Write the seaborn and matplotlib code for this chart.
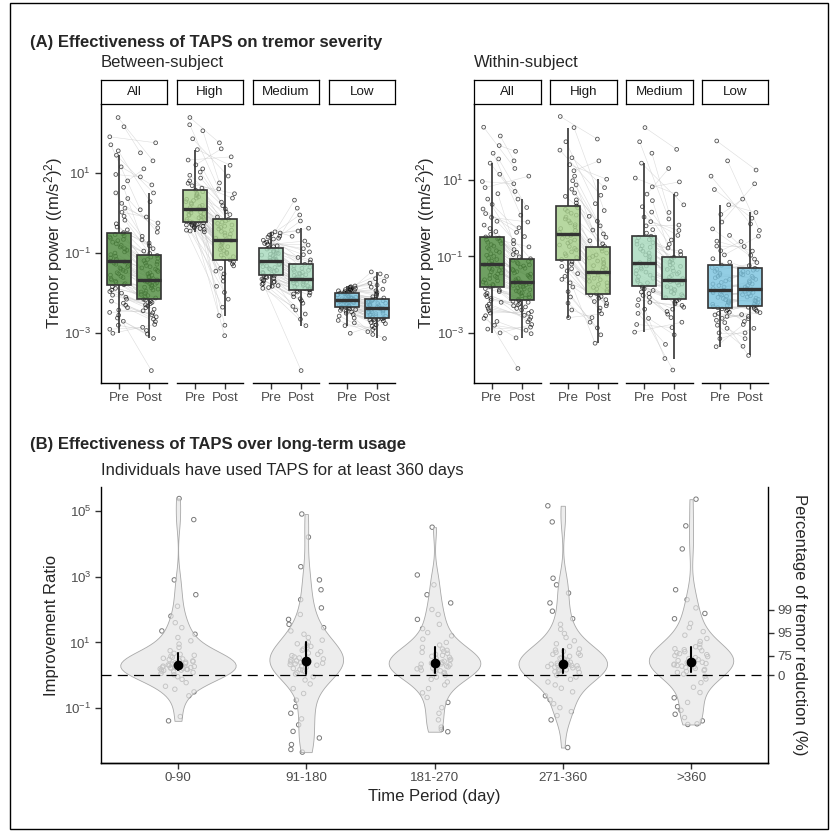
import numpy as np
import pandas as pd
import matplotlib
import matplotlib.pyplot as plt
import seaborn as sns
from matplotlib.collections import LineCollection
from matplotlib.colors import to_rgba
from matplotlib.patches import Rectangle

# =====================================
# DATA (log10 values)
# =====================================
phases = ["Pre", "Post"]
tiers = ["All", "High", "Medium", "Low"]
tier_colors = ["#4f8b3f", "#a8d08c", "#a7dabd", "#7cc4df"]

all_pre = [-3.0, -2.9, -2.8, -2.7, -2.62, -2.55, -2.48, -2.42, -2.36, -2.3, -2.25, -2.2, -2.15, -2.1, -2.05, -2.0, -1.96, -1.92, -1.88, -1.84, -1.79,
           -1.76, -1.73, -1.7, -1.67, -1.64, -1.61, -1.58, -1.55, -1.52, -1.49, -1.46, -1.43, -1.4, -1.37, -1.34, -1.31, -1.28, -1.25, -1.22, -1.2,
           -1.16, -1.12, -1.08, -1.04, -1.0, -0.97, -0.93, -0.89, -0.85, -0.81, -0.77, -0.73, -0.69, -0.66, -0.63, -0.6, -0.57, -0.54, -0.52, -0.49,
           -0.42, -0.35, -0.27, -0.18, -0.08, 0.02, 0.12, 0.24, 0.36, 0.5, 0.64, 0.8, 0.96, 1.15, 1.44, 1.55, 1.7, 1.9, 2.15, 2.38]
all_post = [-3.93, -3.13, -3.02, -2.93, -2.85, -2.78, -2.71, -2.65, -2.59, -2.54, -2.49, -2.44, -2.4, -2.36, -2.32, -2.29, -2.26, -2.23, -2.2, -2.17, -2.15,
            -2.12, -2.09, -2.06, -2.03, -2.0, -1.97, -1.95, -1.92, -1.9, -1.87, -1.85, -1.82, -1.8, -1.78, -1.76, -1.74, -1.72, -1.7, -1.68, -1.67,
            -1.64, -1.61, -1.58, -1.55, -1.52, -1.49, -1.46, -1.43, -1.4, -1.37, -1.34, -1.31, -1.28, -1.25, -1.22, -1.19, -1.16, -1.13, -1.1, -1.06,
            -1.01, -0.95, -0.89, -0.82, -0.75, -0.67, -0.58, -0.48, -0.37, -0.25, -0.1, 0.08, 0.28, 0.5, 0.7, 0.9, 1.1, 1.3, 1.5, 1.75]

btw_high_pre = [-0.47, -0.45, -0.43, -0.41, -0.39, -0.37, -0.35, -0.33, -0.31, -0.3, -0.29, -0.28, -0.27, -0.25, -0.24, -0.22,
                -0.2, -0.18, -0.16, -0.14, -0.12, -0.1, -0.08, -0.06, -0.04, -0.02, 0.0, 0.02, 0.05, 0.07, 0.10,
                0.13, 0.16, 0.19, 0.22, 0.25, 0.28, 0.31, 0.34, 0.37, 0.4, 0.43, 0.46, 0.49, 0.53, 0.57,
                0.62, 0.68, 0.74, 0.8, 0.87, 0.94, 1.02, 1.1, 1.2, 1.32, 1.58, 1.85, 2.05, 2.2, 2.38]
btw_high_post = [-3.06, -2.8, -2.56, -2.35, -2.15, -1.98, -1.83, -1.7, -1.6, -1.52, -1.45, -1.38, -1.32, -1.27, -1.22, -1.17,
                 -1.13, -1.09, -1.05, -1.01, -0.98, -0.94, -0.91, -0.87, -0.84, -0.81, -0.77, -0.74, -0.71, -0.69, -0.67,
                 -0.63, -0.6, -0.56, -0.53, -0.5, -0.46, -0.43, -0.4, -0.36, -0.33, -0.3, -0.26, -0.23, -0.2, -0.16,
                 -0.1, -0.04, 0.03, 0.1, 0.18, 0.27, 0.37, 0.48, 0.6, 0.75, 0.92, 1.19, 1.4, 1.6, 1.75]
btw_medium_pre = [-1.88, -1.86, -1.83, -1.81, -1.78, -1.76, -1.73, -1.71, -1.69, -1.67, -1.65, -1.63, -1.61, -1.59, -1.57, -1.55,
                  -1.53, -1.5, -1.48, -1.46, -1.43, -1.41, -1.39, -1.36, -1.34, -1.32, -1.29, -1.27, -1.25, -1.22, -1.2,
                  -1.18, -1.16, -1.14, -1.12, -1.1, -1.07, -1.05, -1.03, -1.01, -0.99, -0.97, -0.95, -0.93, -0.9, -0.87,
                  -0.84, -0.82, -0.79, -0.76, -0.73, -0.71, -0.68, -0.65, -0.63, -0.6, -0.58, -0.55, -0.52, -0.5, -0.47]
btw_medium_post = [-3.93, -2.81, -2.65, -2.52, -2.42, -2.33, -2.25, -2.19, -2.14, -2.09, -2.05, -2.02, -1.99, -1.97, -1.94, -1.92,
                   -1.9, -1.88, -1.86, -1.84, -1.82, -1.8, -1.78, -1.76, -1.74, -1.72, -1.7, -1.69, -1.67, -1.66, -1.64,
                   -1.62, -1.6, -1.58, -1.56, -1.54, -1.52, -1.5, -1.48, -1.46, -1.43, -1.41, -1.38, -1.35, -1.32, -1.28,
                   -1.23, -1.17, -1.11, -1.04, -0.97, -0.89, -0.8, -0.7, -0.58, -0.45, -0.38, -0.2, -0.05, 0.12, 0.32]
btw_low_pre = [-3.0, -2.81, -2.74, -2.68, -2.62, -2.57, -2.53, -2.5, -2.47, -2.45, -2.43, -2.41, -2.39, -2.38, -2.36, -2.35,
               -2.34, -2.32, -2.31, -2.3, -2.28, -2.27, -2.26, -2.24, -2.23, -2.22, -2.21, -2.2, -2.19, -2.18, -2.17,
               -2.16, -2.15, -2.14, -2.13, -2.12, -2.11, -2.1, -2.09, -2.08, -2.06, -2.05, -2.04, -2.03, -2.02, -2.0,
               -1.99, -1.98, -1.97, -1.96, -1.95, -1.94, -1.93, -1.92, -1.91, -1.9, -1.88, -1.87, -1.85, -1.84, -1.82]
btw_low_post = [-3.13, -3.03, -2.96, -2.91, -2.86, -2.82, -2.79, -2.76, -2.73, -2.71, -2.69, -2.67, -2.66, -2.65, -2.64, -2.62,
                -2.6, -2.58, -2.56, -2.55, -2.53, -2.51, -2.5, -2.48, -2.46, -2.45, -2.43, -2.41, -2.4, -2.38, -2.37,
                -2.35, -2.34, -2.32, -2.31, -2.29, -2.28, -2.26, -2.25, -2.23, -2.22, -2.2, -2.19, -2.18, -2.16, -2.15,
                -2.12, -2.09, -2.06, -2.02, -1.98, -1.94, -1.9, -1.85, -1.8, -1.75, -1.7, -1.64, -1.58, -1.52, -1.47]

win_high_pre = [-2.6, -2.4, -2.22, -2.06, -1.92, -1.8, -1.69, -1.6, -1.52, -1.45, -1.38, -1.32, -1.26, -1.2, -1.14, -1.08,
                -1.03, -0.98, -0.93, -0.88, -0.83, -0.79, -0.74, -0.7, -0.65, -0.61, -0.57, -0.53, -0.49, -0.45, -0.42,
                -0.37, -0.32, -0.27, -0.22, -0.17, -0.12, -0.07, -0.02, 0.03, 0.08, 0.13, 0.18, 0.23, 0.27, 0.32,
                0.4, 0.48, 0.57, 0.66, 0.76, 0.87, 0.98, 1.1, 1.24, 1.4, 1.58, 1.78, 2.0, 2.37, 2.66]
win_high_post = [-3.27, -3.05, -2.87, -2.72, -2.6, -2.5, -2.42, -2.35, -2.29, -2.23, -2.18, -2.13, -2.09, -2.05, -2.01, -1.97,
                 -1.93, -1.89, -1.85, -1.81, -1.77, -1.73, -1.69, -1.65, -1.61, -1.57, -1.53, -1.49, -1.46, -1.43, -1.4,
                 -1.36, -1.32, -1.28, -1.24, -1.2, -1.16, -1.12, -1.08, -1.04, -1.0, -0.96, -0.91, -0.86, -0.8, -0.74,
                 -0.67, -0.59, -0.5, -0.41, -0.31, -0.2, -0.08, 0.05, 0.2, 0.38, 0.6, 0.8, 1.02, 1.5, 2.07]
win_medium_pre = [-2.98, -2.78, -2.62, -2.49, -2.38, -2.28, -2.2, -2.13, -2.07, -2.02, -1.97, -1.93, -1.89, -1.85, -1.81, -1.77,
                  -1.73, -1.69, -1.65, -1.61, -1.57, -1.53, -1.49, -1.45, -1.41, -1.37, -1.33, -1.29, -1.25, -1.2, -1.16,
                  -1.11, -1.06, -1.01, -0.96, -0.91, -0.86, -0.81, -0.76, -0.72, -0.68, -0.64, -0.6, -0.56, -0.51, -0.47,
                  -0.39, -0.3, -0.2, -0.09, 0.03, 0.16, 0.3, 0.46, 0.63, 0.82, 1.05, 1.44, 1.7, 2.0, 2.37]
win_medium_post = [-3.97, -3.67, -3.3, -3.05, -2.86, -2.72, -2.6, -2.51, -2.44, -2.38, -2.33, -2.28, -2.24, -2.2, -2.16, -2.12,
                   -2.08, -2.04, -2.0, -1.97, -1.93, -1.89, -1.86, -1.82, -1.79, -1.75, -1.72, -1.69, -1.66, -1.64, -1.62,
                   -1.58, -1.54, -1.5, -1.46, -1.42, -1.38, -1.34, -1.3, -1.26, -1.22, -1.18, -1.14, -1.1, -1.06, -1.02,
                   -0.95, -0.87, -0.78, -0.68, -0.57, -0.45, -0.32, -0.18, -0.02, 0.15, 0.35, 0.63, 0.95, 1.3, 1.8]
win_low_pre = [-3.36, -3.15, -3.0, -2.88, -2.8, -2.73, -2.67, -2.62, -2.57, -2.53, -2.49, -2.46, -2.43, -2.4, -2.37, -2.34,
               -2.31, -2.28, -2.25, -2.22, -2.19, -2.16, -2.13, -2.1, -2.07, -2.04, -2.01, -1.98, -1.95, -1.91, -1.88,
               -1.84, -1.8, -1.76, -1.72, -1.68, -1.64, -1.6, -1.56, -1.52, -1.48, -1.44, -1.39, -1.34, -1.29, -1.23,
               -1.15, -1.06, -0.96, -0.85, -0.73, -0.6, -0.45, -0.28, -0.1, 0.1, 0.35, 0.75, 1.1, 1.5, 2.02]
win_low_post = [-3.59, -3.35, -3.15, -3.0, -2.88, -2.78, -2.7, -2.63, -2.57, -2.52, -2.47, -2.43, -2.39, -2.36, -2.33, -2.3,
                -2.27, -2.24, -2.21, -2.18, -2.15, -2.12, -2.09, -2.06, -2.03, -2.0, -1.97, -1.94, -1.91, -1.87, -1.84,
                -1.8, -1.76, -1.72, -1.68, -1.64, -1.6, -1.56, -1.52, -1.48, -1.45, -1.42, -1.39, -1.36, -1.34, -1.31,
                -1.24, -1.16, -1.07, -0.97, -0.86, -0.74, -0.61, -0.47, -0.32, -0.15, 0.0, 0.15, 0.5, 0.9, 1.26]

periods = ["0-90", "91-180", "181-270", "271-360", ">360"]
ratio_0_90 = [-1.38, -1.25, -0.62, -0.5, -0.42, -0.33, -0.22, -0.12, -0.04, 0.02, 0.06, 0.09, 0.11, 0.13, 0.15, 0.16,
              0.17, 0.18, 0.19, 0.2, 0.21, 0.22, 0.23, 0.24, 0.25, 0.26, 0.27, 0.28, 0.29, 0.3, 0.32,
              0.34, 0.36, 0.38, 0.4, 0.42, 0.44, 0.46, 0.48, 0.5, 0.52, 0.55, 0.58, 0.61, 0.64, 0.67,
              0.75, 0.85, 0.95, 1.05, 1.15, 1.25, 1.35, 1.45, 1.6, 1.8, 2.1, 2.45, 2.9, 4.73, 5.37]
ratio_91_180 = [-2.33, -2.25, -2.1, -1.9, -1.7, -1.5, -1.32, -1.15, -0.95, -0.75, -0.55, -0.4, -0.26, -0.14, -0.04, 0.04,
                0.08, 0.12, 0.15, 0.18, 0.21, 0.24, 0.27, 0.29, 0.31, 0.33, 0.35, 0.37, 0.39, 0.41, 0.44,
                0.47, 0.5, 0.53, 0.56, 0.6, 0.64, 0.68, 0.72, 0.76, 0.8, 0.84, 0.88, 0.92, 0.96, 1.0,
                1.07, 1.15, 1.25, 1.35, 1.45, 1.55, 1.7, 1.85, 2.05, 2.3, 2.6, 2.9, 3.3, 4.2, 4.9]
ratio_181_270 = [-1.71, -1.64, -1.57, -1.35, -1.15, -0.98, -0.82, -0.67, -0.53, -0.4, -0.29, -0.2, -0.12, -0.05, 0.01, 0.06,
                 0.09, 0.12, 0.14, 0.16, 0.18, 0.2, 0.22, 0.24, 0.26, 0.28, 0.3, 0.32, 0.34, 0.35, 0.37,
                 0.4, 0.43, 0.46, 0.49, 0.52, 0.55, 0.58, 0.61, 0.64, 0.67, 0.7, 0.73, 0.76, 0.8, 0.85,
                 0.92, 1.0, 1.1, 1.2, 1.3, 1.42, 1.55, 1.7, 1.85, 2.0, 2.2, 2.45, 2.75, 3.05, 4.5]
ratio_271_360 = [-2.19, -1.35, -1.22, -1.1, -0.98, -0.86, -0.74, -0.62, -0.5, -0.39, -0.29, -0.2, -0.12, -0.05, 0.01, 0.06,
                 0.09, 0.11, 0.13, 0.15, 0.17, 0.19, 0.21, 0.23, 0.25, 0.27, 0.29, 0.3, 0.31, 0.33, 0.34,
                 0.37, 0.4, 0.43, 0.46, 0.49, 0.52, 0.55, 0.58, 0.61, 0.64, 0.67, 0.7, 0.73, 0.77, 0.8,
                 0.88, 0.96, 1.05, 1.15, 1.27, 1.4, 1.55, 1.72, 1.95, 2.2, 2.5, 2.75, 2.95, 4.66, 5.15]
ratio_over_360 = [-1.49, -1.47, -1.38, -1.28, -1.18, -1.06, -0.95, -0.82, -0.68, -0.52, -0.36, -0.22, -0.11, -0.03, 0.04, 0.09,
                  0.12, 0.15, 0.18, 0.21, 0.24, 0.26, 0.28, 0.3, 0.32, 0.34, 0.36, 0.38, 0.39, 0.4, 0.42,
                  0.45, 0.48, 0.51, 0.54, 0.57, 0.6, 0.63, 0.66, 0.69, 0.72, 0.75, 0.78, 0.81, 0.84, 0.87,
                  0.95, 1.03, 1.12, 1.22, 1.33, 1.45, 1.58, 1.72, 1.88, 2.05, 2.3, 2.6, 3.84, 4.54, 5.35]

between_groups = [(all_pre, all_post), (btw_high_pre, btw_high_post),
                  (btw_medium_pre, btw_medium_post), (btw_low_pre, btw_low_post)]
within_groups = [(all_pre, all_post), (win_high_pre, win_high_post),
                 (win_medium_pre, win_medium_post), (win_low_pre, win_low_post)]
ratio_groups = [ratio_0_90, ratio_91_180, ratio_181_270, ratio_271_360, ratio_over_360]

# =====================================
# STYLE
# =====================================
sns.set_theme(style="ticks")
plt.rcParams["font.family"] = ["Liberation Sans", "DejaVu Sans"]
plt.rcParams["mathtext.fontset"] = "custom"
plt.rcParams["mathtext.rm"] = "Liberation Sans"
plt.rcParams["mathtext.it"] = "Liberation Sans:italic"
plt.rcParams["mathtext.bf"] = "Liberation Sans:bold"
plt.rcParams["axes.edgecolor"] = "black"
plt.rcParams["axes.linewidth"] = 1.0
plt.rcParams["xtick.color"] = "#333333"
plt.rcParams["ytick.color"] = "#333333"
plt.rcParams["xtick.labelcolor"] = "#4d4d4d"
plt.rcParams["ytick.labelcolor"] = "#4d4d4d"

np.random.seed(11)  # jitter positions only

W, H = 833, 832
fig = plt.figure(figsize=(W / 100, H / 100), dpi=100)


def px_rect(x0, y0, x1, y1):
    return [x0 / W, 1 - y1 / H, (x1 - x0) / W, (y1 - y0) / H]


def fig_text(x, y, s, **kw):
    fig.text(x / W, 1 - y / H, s, **kw)


def pair_order(n, block=6):
    idx = []
    for s in range(0, n, block):
        idx += list(range(min(s + block, n) - 1, s - 1, -1))
    return idx


def decade_labels(powers):
    return [r"$10^{%d}$" % p for p in powers]


# =====================================
# PANEL A FACET
# =====================================
def draw_facet(ax, pre, post, color, ylo, yhi, first):
    df = pd.DataFrame({
        "phase": ["Pre"] * len(pre) + ["Post"] * len(post),
        "power": 10.0 ** np.array(pre + post),
    })
    sns.stripplot(data=df, x="phase", y="power", order=phases, jitter=0.32,
                  size=2.7, color="black", log_scale=(False, True), ax=ax, zorder=2)
    pre_pts, post_pts = [c.get_offsets() for c in ax.collections[:2]]
    for c in ax.collections[:2]:
        c.set_facecolor("none")
        c.set_edgecolor((0, 0, 0, 0.68))
        c.set_linewidth(0.6)
    segs = [[pre_pts[i], post_pts[j]] for i, j in enumerate(pair_order(len(pre)))]
    ax.add_collection(LineCollection(segs, colors="#c4c4c4", linewidths=0.4,
                                     alpha=0.6, zorder=1))

    sns.boxplot(data=df, x="phase", y="power", order=phases, color=color,
                saturation=1, width=0.8, linecolor="#333333", linewidth=1.2,
                showfliers=False, showcaps=False, medianprops={"linewidth": 2.4},
                log_scale=(False, True), ax=ax)
    for p in ax.patches:
        p.set_facecolor(to_rgba(color, 0.82))
        p.set_zorder(3)
    for ln in ax.lines:
        ln.set_zorder(4)

    ax.set_xlim(-0.6, 1.6)
    ax.set_ylim(10.0 ** ylo, 10.0 ** yhi)
    ax.set_xlabel("")
    ax.set_ylabel("")
    ax.spines["top"].set_visible(False)
    ax.spines["right"].set_visible(False)
    ax.tick_params(axis="x", length=4, width=1.0, pad=2.5, labelsize=9.6)
    if first:
        ax.set_yticks([10, 0.1, 0.001], labels=decade_labels([1, -1, -3]))
        ax.tick_params(axis="y", length=4, width=1.0, pad=3, labelsize=9.6)
    else:
        ax.spines["left"].set_visible(False)
        ax.tick_params(axis="y", left=False, labelleft=False)
    ax.minorticks_off()


def draw_panel(x_edges, groups, ylo, yhi, header, ylabel_x):
    for k, (x0, x1) in enumerate(x_edges):
        ax = fig.add_axes(px_rect(x0, 103.5, x1, 383))
        pre, post = groups[k]
        draw_facet(ax, pre, post, tier_colors[k], ylo, yhi, first=(k == 0))

        strip = fig.add_axes(px_rect(x0, 80, x1, 103.5))
        strip.set_xticks([])
        strip.set_yticks([])
        for sp in strip.spines.values():
            sp.set_linewidth(0.9)
            sp.set_color("black")
        strip.text(0.5, 0.5, tiers[k], ha="center", va="center",
                   fontsize=9.6, color="#1a1a1a", transform=strip.transAxes)

    fig_text(x_edges[0][0], 67.5, header, fontsize=12, va="baseline")
    fig_text(ylabel_x, 243, r"Tremor power ((m/s$^2$)$^2$)", fontsize=12,
             rotation=90, ha="center", va="center")


fig_text(30, 46.7, "(A) Effectiveness of TAPS on tremor severity",
         fontsize=12, fontweight="bold", va="baseline")

draw_panel([(101, 167), (177, 243), (253, 319), (329, 395)],
           between_groups, -4.24, 2.73, "Between-subject", 54)
draw_panel([(473.5, 540.5), (550, 616.5), (626, 692.5), (702, 768.5)],
           within_groups, -4.31, 3.0, "Within-subject", 426)

# =====================================
# PANEL B
# =====================================
fig_text(30, 449, "(B) Effectiveness of TAPS over long-term usage",
         fontsize=12, fontweight="bold", va="baseline")
fig_text(101, 474.5, "Individuals have used TAPS for at least 360 days",
         fontsize=12, va="baseline")

axB = fig.add_axes(px_rect(101, 487, 768, 763))
dfB = pd.DataFrame({
    "period": np.repeat(periods, [len(v) for v in ratio_groups]),
    "ratio": 10.0 ** np.concatenate(ratio_groups),
})

sns.stripplot(data=dfB, x="period", y="ratio", order=periods, jitter=0.14,
              size=3.2, color="#7a7a7a", log_scale=(False, True), ax=axB, zorder=1)
for c in axB.collections:
    c.set_facecolor("none")
    c.set_edgecolor("#7a7a7a")
    c.set_linewidth(0.7)

n_before = len(axB.collections)
sns.violinplot(data=dfB, x="period", y="ratio", order=periods, color="#e6e6e6",
               saturation=1, inner=None, cut=0, density_norm="area", width=0.9,
               bw_method="silverman", bw_adjust=0.75, linecolor="#a8a8a8",
               linewidth=0.6, log_scale=(False, True), ax=axB)
for c in axB.collections[n_before:]:
    c.set_facecolor(to_rgba("#e6e6e6", 0.7))
    c.set_zorder(2)

axB.axhline(1, color="black", lw=0.9, ls=(0, (8, 5)), zorder=3)

n_lines = len(axB.lines)
sns.pointplot(data=dfB, x="period", y="ratio", order=periods, estimator="median",
              errorbar=("pi", 50), color="black", linestyle="none", markersize=5,
              err_kws={"linewidth": 1.5}, log_scale=(False, True), ax=axB)
for ln in axB.lines[n_lines:]:
    ln.set_zorder(5)

ylimB = (10.0 ** -2.66, 10.0 ** 5.72)
axB.set_xlim(-0.6, 4.6)
axB.set_ylim(*ylimB)
axB.set_xlabel("")
axB.set_ylabel("")
axB.set_yticks([1e5, 1e3, 1e1, 1e-1], labels=decade_labels([5, 3, 1, -1]))
axB.minorticks_off()
axB.spines["top"].set_visible(False)
axB.spines["right"].set_visible(False)
axB.tick_params(axis="both", length=4, width=1.0, labelsize=9.6)
axB.tick_params(axis="x", pad=2.5)
axB.tick_params(axis="y", pad=3)

axR = axB.twinx()
axR.set_yscale("log")
axR.set_ylim(*ylimB)
axR.set_yticks([1, 4, 20, 100], labels=["0", "75", "95", "99"])
axR.minorticks_off()
axR.spines["top"].set_visible(False)
axR.spines["left"].set_visible(False)
axR.tick_params(axis="y", length=4, width=1.0, pad=3, labelsize=9.6)

fig_text(51.5, 625, "Improvement Ratio", fontsize=12, rotation=90,
         ha="center", va="center")
fig_text(434.5, 801.5, "Time Period (day)", fontsize=12, ha="center", va="baseline")
fig_text(800, 625, "Percentage of tremor reduction (%)", fontsize=12,
         rotation=-90, ha="center", va="center")

# outer frame
fig.patches.append(Rectangle((10 / W, 1 - 829 / H), 818 / W, 826 / H,
                             transform=fig.transFigure, fill=False,
                             lw=1.0, ec="black"))

fig.savefig("out.png", dpi=100)
